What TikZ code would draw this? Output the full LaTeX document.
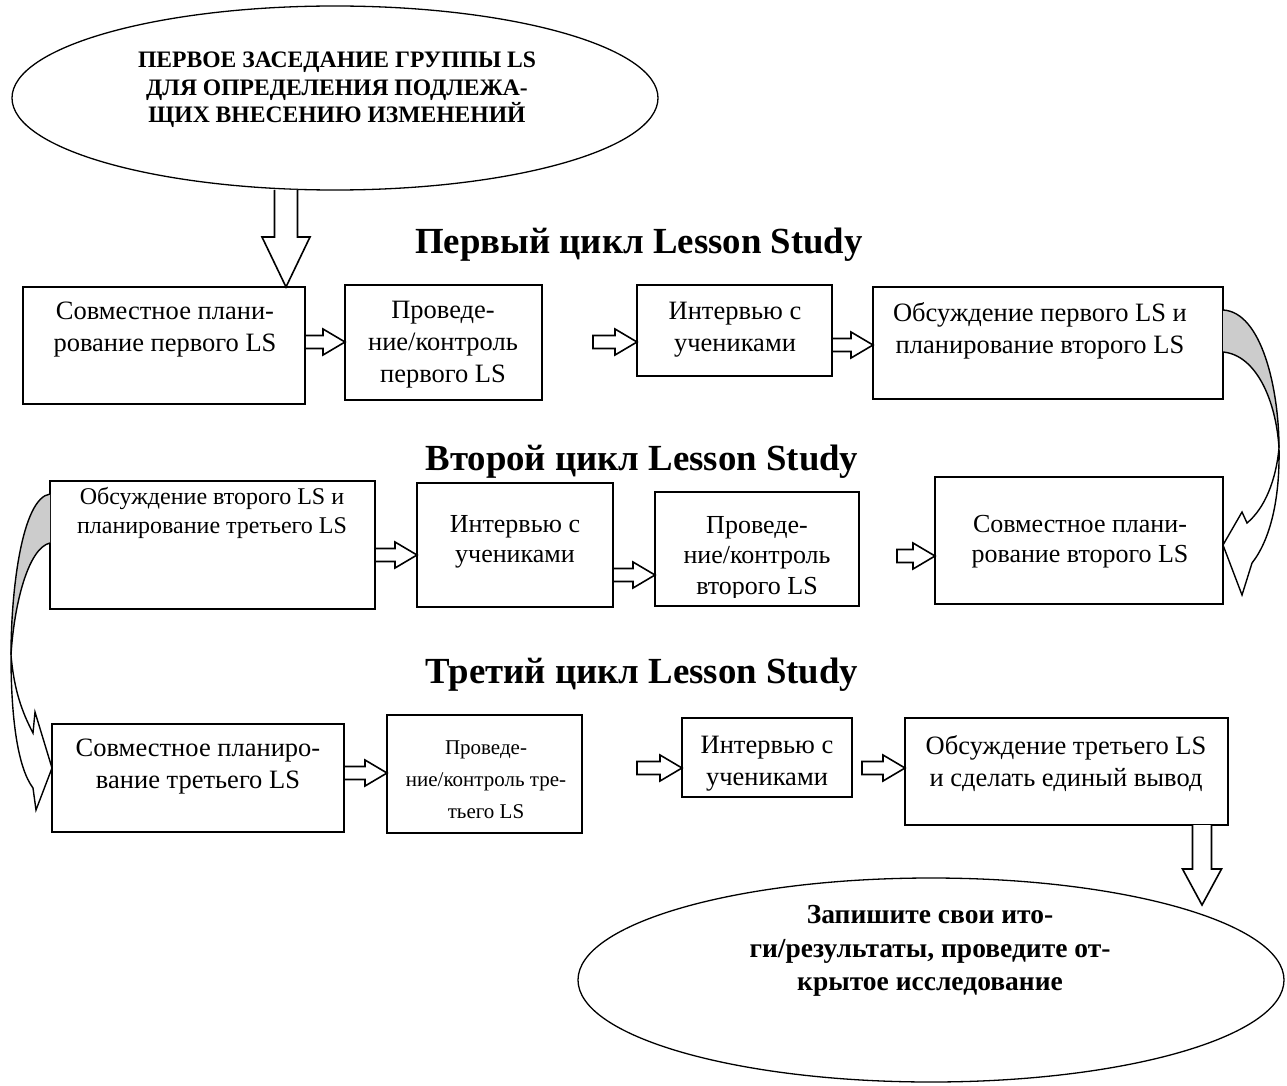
\documentclass[tikz,border=0pt]{standalone}
\usepackage{fontspec}
\setmainfont{Liberation Serif}
\usetikzlibrary{calc,shapes.geometric}
\tikzset{
  box/.style={draw, line width=1.6pt, inner sep=0pt, outer sep=0pt},
  oval/.style={draw, ellipse, line width=1.3pt, inner sep=0pt, outer sep=0pt},
  blk/.style={draw, fill=white, line width=1.6pt, line join=miter},
  curv/.style={draw, line width=1.4pt, line join=miter},
  shade/.style={fill=gray!40},
  txt/.style={align=center, inner sep=0pt, font=\fontsize{26.5}{32}\selectfont},
  txtB/.style={align=center, inner sep=0pt, font=\fontsize{26}{30}\selectfont},
  txtA/.style={align=center, inner sep=0pt, font=\fontsize{24}{29}\selectfont},
  txtF/.style={align=center, inner sep=0pt, font=\fontsize{21}{32}\selectfont},
  ttl/.style={inner sep=0pt, font=\fontsize{36.8}{42}\selectfont\bfseries},
  ovtxt/.style={align=center, inner sep=0pt, font=\fontsize{23.6}{27.5}\selectfont\bfseries},
  ovtxtB/.style={align=center, inner sep=0pt, font=\fontsize{27.5}{33.5}\selectfont\bfseries}
}
\newcommand{\boxat}[5]{\node[box, minimum width={#4-#2}, minimum height={#5-#3}] (#1) at ({(#2+#4)/2},{(#3+#5)/2}) {};}
% horizontal hollow arrow: from x of #1 to x of #2 at height #3
\newcommand{\harr}[3]{\draw[blk] ($(#1|-0,#3)+(0,-6.5)$) -- ($(#2|-0,#3)+(-22,-6.5)$) -- ($(#2|-0,#3)+(-22,-13)$) -- (#2|-0,#3) -- ($(#2|-0,#3)+(-22,13)$) -- ($(#2|-0,#3)+(-22,6.5)$) -- ($(#1|-0,#3)+(0,6.5)$) -- cycle;}
\begin{document}
\begin{tikzpicture}[x=1pt,y=-1pt]
\fill[white] (0,0) rectangle (1287,1086);
\useasboundingbox (0,0) rectangle (1287,1086);

% top ellipse
\node[oval, minimum width=646, minimum height=184] (top) at (335,98) {};
\node[ovtxt] (toptxt) at (337,90) {ПЕРВОЕ ЗАСЕДАНИЕ ГРУППЫ LS\\ДЛЯ ОПРЕДЕЛЕНИЯ ПОДЛЕЖА-\\ЩИХ ВНЕСЕНИЮ ИЗМЕНЕНИЙ};

% titles
\node[ttl] (t1) at (639,245) {Первый цикл Lesson Study};
\node[ttl] (t2) at (642,462) {Второй цикл Lesson Study};
\node[ttl] (t3) at (642,675) {Третий цикл Lesson Study};

% row 1
\boxat{b1}{23}{287}{305}{404}
\boxat{b2}{345}{285}{542}{400}
\boxat{b3}{637}{285}{832}{376}
\boxat{b4}{873}{287}{1223}{399}
\node[txt] (x1) at (165,330) {Совместное плани-\\рование первого LS};
\node[txt] (x2) at (443,345) {Проведе-\\ние/контроль\\первого LS};
\node[txt] (x3) at (735,330) {Интервью с\\учениками};
\node[txt] (x4) at (1040,331) {Обсуждение первого LS и\\планирование второго LS};

% down arrow from top ellipse to b1
\coordinate (d1s) at (286,190);
\draw[blk] ($(d1s)+(-11.5,0)$) -- ($(b1.north-|d1s)+(-11.5,-50)$) -- ($(b1.north-|d1s)+(-24,-50)$) -- (b1.north-|d1s) -- ($(b1.north-|d1s)+(24,-50)$) -- ($(b1.north-|d1s)+(11.5,-50)$) -- ($(d1s)+(11.5,0)$);

\coordinate (s2) at (593,342);
\harr{b1.east}{b2.west}{342}
\harr{s2}{b3.west}{342}
\harr{b3.east}{b4.west}{345}

% row 2
\boxat{bA}{50}{481}{375}{609}
\boxat{bB}{417}{483}{613}{607}
\boxat{bC}{655}{492}{859}{606}
\boxat{bD}{935}{477}{1223}{604}
\node[txtA] (xA) at (212,513) {Обсуждение второго LS и\\планирование третьего LS};
\node[txtB] (xB) at (515,542) {Интервью с\\учениками};
\begin{scope}
\clip (bC.north west) rectangle ($(bC.south east)+(0,-9)$);
\node[txtB, font=\fontsize{26}{30.5}\selectfont] (xC) at (757,558) {Проведе-\\ние/контроль\\второго LS};
\end{scope}
\node[txtB] (xD) at (1080,542) {Совместное плани-\\рование второго LS};

\coordinate (s5) at (897,556);
\harr{bA.east}{bB.west}{555}
\harr{bB.east}{bC.west}{575}
\harr{s5}{bD.west}{556}

% row 3
\boxat{bE}{52}{724}{344}{832}
\boxat{bF}{387}{715}{582}{833}
\boxat{bG}{682}{718}{852}{797}
\boxat{bH}{905}{718}{1228}{825}
\node[txt] (xE) at (198,767) {Совместное планиро-\\вание третьего LS};
\node[txtF] (xF) at (486,780) {Проведе-\\ние/контроль тре-\\тьего LS};
\node[txt] (xG) at (767,764) {Интервью с\\учениками};
\node[txt] (xH) at (1066,764) {Обсуждение третьего LS\\и сделать единый вывод};

\coordinate (s8) at (637,768);
\coordinate (s9) at (862,768);
\harr{bE.east}{bF.west}{773}
\harr{s8}{bG.west}{768}
\harr{s9}{bH.west}{768}

% bottom ellipse
\node[oval, minimum width=706, minimum height=204] (bot) at (931,980) {};
\node[ovtxtB] (bottxt) at (930,951) {Запишите свои ито-\\ги/результаты, проведите от-\\крытое исследование};

% down arrow from bH to bottom ellipse
\coordinate (d2e) at (1202,905);
\draw[blk] ($(bH.south-|d2e)+(-9.5,0)$) -- ($(d2e)+(-9.5,-36)$) -- ($(d2e)+(-19.5,-36)$) -- (d2e) -- ($(d2e)+(19.5,-36)$) -- ($(d2e)+(9.5,-36)$) -- ($(bH.south-|d2e)+(9.5,0)$);

% curved arrow right: b4 -> bD
\fill[shade] (b4.east|-0,310) .. controls (1262,312) and (1279,390) .. (1279,448) .. controls (1276,400) and (1256,355) .. (b4.east|-0,352) -- cycle;
\draw[curv] (b4.east|-0,310) .. controls (1262,312) and (1279,390) .. (1279,448) .. controls (1280,500) and (1270,540) .. (1252,563) -- (1242,595) -- (bD.east|-0,545) -- (1242,512) -- (1247,523) .. controls (1265,508) and (1276,480) .. (1279,448);
\draw[curv] (b4.east|-0,352) .. controls (1256,355) and (1276,400) .. (1279,448);

% curved arrow left: bA -> bE
\fill[shade] (bA.west|-0,494) .. controls (22,498) and (11,590) .. (11,655) .. controls (14,605) and (28,548) .. (bA.west|-0,543) -- cycle;
\draw[curv] (bA.west|-0,494) .. controls (22,498) and (11,590) .. (11,655) .. controls (11,720) and (18,768) .. (33,788) -- (36,810) -- (bE.west|-0,768) -- (35,712) -- (33,733) .. controls (22,712) and (14,690) .. (11,655);
\draw[curv] (bA.west|-0,543) .. controls (28,548) and (14,605) .. (11,655);
\end{tikzpicture}
\end{document}
